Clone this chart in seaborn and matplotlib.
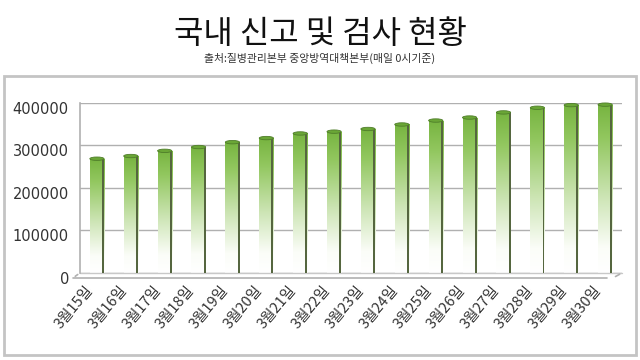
import numpy as np
import pandas as pd
import matplotlib
matplotlib.use('Agg')
import matplotlib.pyplot as plt
import matplotlib.transforms as mtransforms
from matplotlib.colors import LinearSegmentedColormap
from matplotlib.patches import Rectangle, Ellipse
from matplotlib.lines import Line2D
import seaborn as sns

# ── data ────────────────────────────────────────────────
dates = ['3월15일', '3월16일', '3월17일', '3월18일', '3월19일', '3월20일', '3월21일', '3월22일',
         '3월23일', '3월24일', '3월25일', '3월26일', '3월27일', '3월28일', '3월29일', '3월30일']
tests = [268212, 274504, 286716, 295647, 307024, 316664, 327509, 331780,
         338036, 348582, 357896, 364942, 376961, 387925, 394141, 395194]
yticks = [0, 100000, 200000, 300000, 400000]

df = pd.DataFrame({'date': dates, 'tests': tests})

sns.set_theme(style='white')
plt.rcParams['font.family'] = ['Noto Sans CJK KR', 'DejaVu Sans']

fig = plt.figure(figsize=(6.4, 3.6), dpi=100)
ax = fig.add_axes([0.125, 0.242, 0.847, 0.473])

sns.barplot(data=df, x='date', y='tests', width=0.42, color='#7cba3f', ax=ax)

# gradient fill: green at top fading to white at the bottom
cmap = LinearSegmentedColormap.from_list(
    'g', [(0.0, '#ffffff'), (0.15, '#fbfdf8'), (0.45, '#cde5b5'),
          (0.8, '#92c75f'), (1.0, '#77b440')])
grad = np.linspace(0, 1, 256).reshape(-1, 1)
for p in ax.patches:
    x0, y0 = p.get_x(), p.get_y()
    w, h = p.get_width(), p.get_height()
    p.set_facecolor('none')
    p.set_edgecolor('none')
    im = ax.imshow(grad, cmap=cmap, origin='lower', aspect='auto',
                   extent=[x0, x0 + w, y0, y0 + h], zorder=2)
    im.set_clip_path(p)
    # dark right side for the cylinder look
    ax.add_patch(Rectangle((x0 + w * 0.86, y0), w * 0.14, h, color='#55663f',
                           zorder=3, lw=0))
    ax.add_patch(Ellipse((x0 + w / 2, y0 + h), w, 8000, facecolor='#6aa636',
                         edgecolor='#4f7d2a', lw=0.6, zorder=4, clip_on=False))

ax.set_xlim(-0.5, len(dates) - 0.5)
ax.set_ylim(0, 400000)
ax.set_yticks(yticks)
ax.set_yticklabels([str(v) for v in yticks], fontsize=10.5, color='#333333',
                   family='DejaVu Sans')
ax.set_xticks(range(len(dates)))
ax.set_xticklabels(dates, rotation=50, ha='right', rotation_mode='anchor',
                   fontsize=10.5, color='#333333')
ax.tick_params(axis='x', pad=6, length=0)
ax.tick_params(axis='y', pad=8, length=0)
ax.set_xlabel('')
ax.set_ylabel('')

# labels sit on the front plane of the 3D floor
shift_x = mtransforms.ScaledTranslation(-12 / 100, -2 / 100, fig.dpi_scale_trans)
for lab in ax.get_xticklabels():
    lab.set_transform(lab.get_transform() + shift_x)
shift_y = mtransforms.ScaledTranslation(0, -5 / 100, fig.dpi_scale_trans)
for lab in ax.get_yticklabels():
    lab.set_transform(lab.get_transform() + shift_y)

ax.yaxis.grid(True, color='#b0b0b0', linewidth=1)
ax.set_axisbelow(True)
for s in ['top', 'right', 'bottom']:
    ax.spines[s].set_visible(False)
ax.spines['left'].set_color('#b0b0b0')
ax.spines['left'].set_linewidth(1.2)

# 3D floor: front edge slightly lower/left of the back edge
front = mtransforms.ScaledTranslation(-7 / 100, -5 / 100, fig.dpi_scale_trans)
ax.add_line(Line2D([0, 0.985], [0, 0], transform=ax.transAxes + front,
                   color='#b0b0b0', lw=1.2, clip_on=False))
ax.annotate('', xy=(0, 0), xycoords='axes fraction',
            xytext=(-7, -5), textcoords='offset pixels',
            arrowprops=dict(arrowstyle='-', color='#b0b0b0', lw=1.2))
ax.annotate('', xy=(1, 0), xycoords='axes fraction',
            xytext=(-9, -5), textcoords='offset pixels',
            arrowprops=dict(arrowstyle='-', color='#b0b0b0', lw=1.2))
ax.add_line(Line2D([0, 1], [0, 0], transform=ax.transAxes, color='#c8c8c8',
                   lw=1, clip_on=False))

# outer chart frame
fig.add_artist(Rectangle((0.006, 0.015), 0.988, 0.775, transform=fig.transFigure,
                         fill=False, edgecolor='#c4c4c4', linewidth=2))

fig.text(0.5, 0.905, '국내 신고 및 검사 현황', ha='center', va='center',
         fontsize=23, color='#111111')
fig.text(0.5, 0.838, '출처:질병관리본부 중앙방역대책본부(매일 0시기준)', ha='center',
         va='center', fontsize=7.8, color='#333333')

fig.savefig('out.png', dpi=100)
